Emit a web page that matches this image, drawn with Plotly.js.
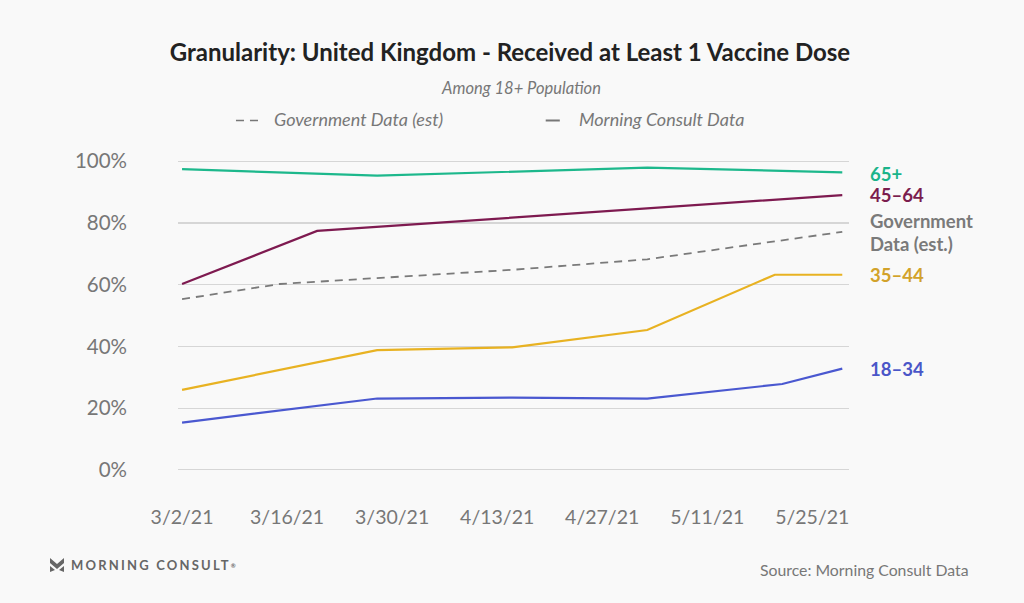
<!DOCTYPE html>
<html>
<head>
<meta charset="utf-8">
<script src="https://cdn.plot.ly/plotly-3.0.1.min.js"></script>
<style>
  html, body { margin: 0; padding: 0; background: #f9f9f9; }
  #chart { width: 1024px; height: 603px; position: relative; }
  #logo { position: absolute; left: 50px; top: 557px; display: flex; align-items: center;
          font-family: Lato, 'Open Sans', sans-serif; font-weight: 700; font-size: 13px;
          letter-spacing: 2.2px; color: #666; }
  #logo svg { margin-right: 7px; }
</style>
</head>
<body>
<div id="chart"></div>
<div id="logo">
  <svg width="14" height="14" viewBox="0 0 14 14"><path d="M0 0 L7 6 L14 0 L14 5 L7 11 L0 5 Z" fill="#666"/><path d="M0 8 L5 12 L0 14 Z M14 8 L9 12 L14 14 Z" fill="#666"/></svg>
  <span>MORNING CONSULT</span><sup style="font-size:6px;letter-spacing:0">®</sup>
</div>
<script>
// ---- data ----
const dates65 = ['2021-03-02', '2021-03-28', '2021-05-03', '2021-05-29'];
const vals65 = [97.4, 95.3, 97.9, 96.4];

const dates4564 = ['2021-03-02', '2021-03-20', '2021-05-29'];
const vals4564 = [60.2, 77.4, 89.0];

const datesGov = ['2021-03-02', '2021-03-15', '2021-04-15', '2021-05-03', '2021-05-29'];
const valsGov = [55.3, 60.2, 64.8, 68.2, 77.1];

const dates3544 = ['2021-03-02', '2021-03-28', '2021-04-15', '2021-05-03', '2021-05-20', '2021-05-29'];
const vals3544 = [25.9, 38.8, 39.7, 45.3, 63.2, 63.2];

const dates1834 = ['2021-03-02', '2021-03-28', '2021-04-15', '2021-05-03', '2021-05-21', '2021-05-29'];
const vals1834 = [15.3, 23.1, 23.4, 23.1, 27.8, 32.8];

const lineColors = ['#1db88c', '#7e1a50', '#7a7a7a', '#e8b222', '#4a58d0'];

const labelTexts = ['65+', '45–64', 'Government', 'Data (est.)', '35–44', '18–34'];
const labelColors = ['#1ab48a', '#7b1d4e', '#7a7a7a', '#7a7a7a', '#d2a22a', '#4a56c8'];
const labelValues = [96.0, 88.9, 80.7, 73.2, 63.1, 32.7];

const titleText = 'Granularity: United Kingdom - Received at Least 1 Vaccine Dose';
const subtitleText = 'Among 18+ Population';
const legendGov = 'Government Data (est)';
const legendMC = 'Morning Consult Data';
const sourceText = 'Source: Morning Consult Data';
const yTickVals = [0, 20, 40, 60, 80, 100];
const yTickText = ['0%', '20%', '40%', '60%', '80%', '100%'];

// ---- chart ----
const FONT = 'Lato, "Open Sans", sans-serif';
const allDates = [dates65, dates4564, datesGov, dates3544, dates1834];
const allVals = [vals65, vals4564, valsGov, vals3544, vals1834];

const traces = allDates.map((d, i) => ({
  x: d, y: allVals[i], type: 'scatter', mode: 'lines',
  line: { color: lineColors[i], width: i === 2 ? 1.8 : 2.2, dash: i === 2 ? '8px,6px' : 'solid' },
  hoverinfo: 'skip', showlegend: false
}));

const annotations = labelTexts.map((n, i) => ({
  x: '2021-05-29', y: labelValues[i], xref: 'x', yref: 'y',
  text: '<b>' + n + '</b>', showarrow: false, xanchor: 'left', yanchor: 'middle',
  xshift: 27, align: 'left', borderpad: 0,
  font: { family: FONT, size: 18.5, color: labelColors[i] }
}));

annotations.push(
  { xref: 'paper', yref: 'paper', x: 0.5, y: 1.2066, text: '<i>' + subtitleText + '</i>', showarrow: false,
    xanchor: 'center', yanchor: 'middle', xshift: 7, yshift: 1, font: { family: FONT, size: 16.5, color: '#777' } },
  { xref: 'paper', yref: 'paper', x: 0.140, y: 1.1075, text: '<i>' + legendGov + '</i>', showarrow: false,
    xanchor: 'left', yanchor: 'middle', yshift: 1, font: { family: FONT, size: 18, color: '#777' } },
  { xref: 'paper', yref: 'paper', x: 0.5946, y: 1.1075, text: '<i>' + legendMC + '</i>', showarrow: false,
    xanchor: 'left', yanchor: 'middle', yshift: 1, font: { family: FONT, size: 18, color: '#777' } },
  { xref: 'paper', yref: 'paper', x: 1.182, y: -0.291, text: sourceText, showarrow: false,
    xanchor: 'right', yanchor: 'middle', font: { family: FONT, size: 15.8, color: '#777' } }
);

const shapes = [
  { type: 'line', xref: 'paper', yref: 'paper', x0: 0.0864, x1: 0.1192, y0: 1.1075, y1: 1.1075,
    line: { color: '#777', width: 1.5, dash: '8px,6px' } },
  { type: 'line', xref: 'paper', yref: 'paper', x0: 0.548, x1: 0.569, y0: 1.1075, y1: 1.1075,
    line: { color: '#777', width: 2 } }
];

const layout = {
  width: 1024, height: 603,
  paper_bgcolor: '#f9f9f9', plot_bgcolor: '#f9f9f9',
  margin: { l: 178, r: 175, t: 154.5, b: 126.6 },
  title: { text: '<b>' + titleText + '</b>', x: 0.498, xanchor: 'center', y: 0.912, yanchor: 'middle',
           font: { family: FONT, size: 24, color: '#222' } },
  xaxis: {
    type: 'date', range: ['2021-03-01 11:00', '2021-05-29 21:30'],
    tick0: '2021-03-02', dtick: 14 * 86400000, tickformat: '%-m/%-d/%y',
    showgrid: false, zeroline: false, showline: false, ticks: '',
    ticklabelstandoff: 27,
    tickfont: { family: FONT, size: 19.5, color: '#777' }
  },
  yaxis: {
    range: [-2, 102], tickvals: yTickVals, ticktext: yTickText,
    showgrid: true, gridcolor: '#d6d6d6', gridwidth: 1.2, zeroline: false, showline: false, ticks: '',
    ticklabelstandoff: 50,
    tickfont: { family: FONT, size: 20.5, color: '#777' }
  },
  annotations: annotations,
  shapes: shapes
};

Plotly.newPlot('chart', traces, layout, { displayModeBar: false, staticPlot: true });
</script>
</body>
</html>
